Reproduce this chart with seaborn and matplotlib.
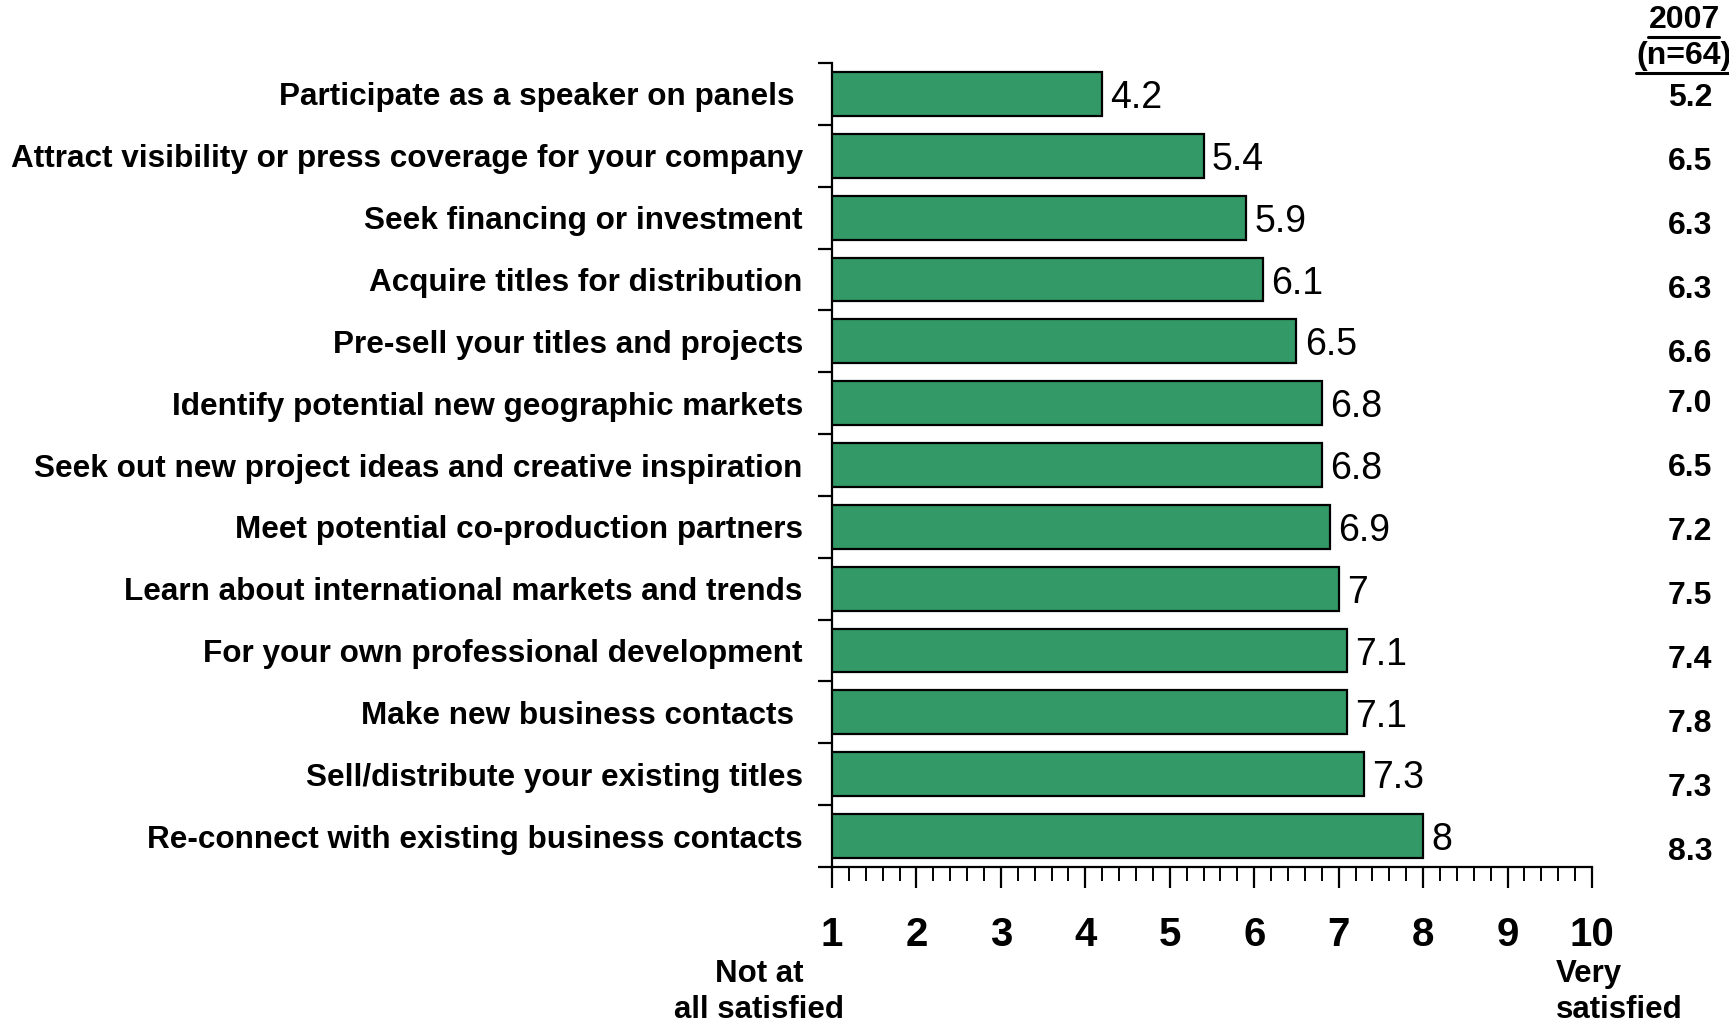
import matplotlib
matplotlib.use("Agg")
import matplotlib.pyplot as plt
import matplotlib.transforms as mtransforms
from matplotlib.ticker import MultipleLocator, FixedLocator
import seaborn as sns
import pandas as pd

# Satisfaction with festival activities, mean score on a 1-10 scale
activities = [
    "Participate as a speaker on panels ",
    "Attract visibility or press coverage for your company",
    "Seek financing or investment",
    "Acquire titles for distribution",
    "Pre-sell your titles and projects",
    "Identify potential new geographic markets",
    "Seek out new project ideas and creative inspiration",
    "Meet potential co-production partners",
    "Learn about international markets and trends",
    "For your own professional development",
    "Make new business contacts ",
    "Sell/distribute your existing titles",
    "Re-connect with existing business contacts",
]
scores_current = [4.2, 5.4, 5.9, 6.1, 6.5, 6.8, 6.8, 6.9, 7.0, 7.1, 7.1, 7.3, 8.0]
scores_2007 = [5.2, 6.5, 6.3, 6.3, 6.6, 7.0, 6.5, 7.2, 7.5, 7.4, 7.8, 7.3, 8.3]
scale_ticks = [1, 2, 3, 4, 5, 6, 7, 8, 9, 10]

df = pd.DataFrame({"activity": activities, "score": scores_current})

sns.set_style("white")
FONT = ["Liberation Sans", "DejaVu Sans"]
plt.rcParams["font.family"] = FONT
plt.rcParams.update({
    "text.color": "black",
    "axes.labelcolor": "black",
    "xtick.color": "black",
    "ytick.color": "black",
})

W, H = 1729, 1031
fig = plt.figure(figsize=(W / 100, H / 100), dpi=100)

# axes box in pixels (x = 1 at left spine, x = 10 at right end)
ax_left, ax_right, ax_top, ax_bottom = 832, 1592, 63, 867
ax = fig.add_axes([ax_left / W, 1 - ax_bottom / H,
                   (ax_right - ax_left) / W, (ax_bottom - ax_top) / H])

bar_color = "#339966"
sns.barplot(data=df, x="score", y="activity", orient="h", color=bar_color,
            edgecolor="black", linewidth=1.6, width=0.71, saturation=1,
            ax=ax)

ax.set_xlim(1, 10)
ax.set_ylim(len(activities) - 0.5, -0.5)

# value labels at bar ends
for cont in ax.containers:
    anns = ax.bar_label(cont, labels=[f"{v:g}" for v in scores_current],
                        padding=6, fontsize=27, color="black")
    for a in anns:
        a.xyann = (6, -3)

# spines
for side in ("top", "right"):
    ax.spines[side].set_visible(False)
for side in ("left", "bottom"):
    ax.spines[side].set_color("black")
    ax.spines[side].set_linewidth(1.6)

# x axis: major every 1, minor every 0.2, ticks pointing down
ax.xaxis.set_major_locator(FixedLocator(scale_ticks))
ax.xaxis.set_minor_locator(MultipleLocator(0.2))
ax.tick_params(axis="x", which="major", bottom=True, direction="out",
               length=15, width=1.6, pad=20, labelsize=29)
ax.tick_params(axis="x", which="minor", bottom=True, direction="out",
               length=10, width=1.4)
for lbl in ax.get_xticklabels():
    lbl.set_fontweight("bold")

# y axis: labels at category centers, separator ticks between categories
ax.set_yticks(range(len(activities)))
ax.set_yticks([i - 0.5 for i in range(len(activities) + 1)], minor=True)
ax.tick_params(axis="y", which="major", left=False, length=0, pad=21,
               labelsize=22.7)
ax.tick_params(axis="y", which="minor", left=True, direction="out",
               length=10, width=1.6)
for lbl in ax.get_yticklabels():
    lbl.set_fontweight("bold")
ax.set_xlabel("")
ax.set_ylabel("")

# 2007 comparison column, set in two blocks of evenly spaced rows
col_x = 1690 / W
row_px = 61.85          # height of one category in pixels
col_step = 64.0         # spacing of the comparison rows in pixels
block_starts = {0: 98.0, 5: 404.0}


def col_y(i):
    start = 5 if i >= 5 else 0
    y_px = block_starts[start] + col_step * (i - start)
    return (y_px - ax_top) / row_px - 0.5


trans = mtransforms.blended_transform_factory(fig.transFigure, ax.transData)
for i, v in enumerate(scores_2007):
    ax.text(col_x, col_y(i), f"{v:.1f}", transform=trans,
            ha="center", va="center", fontsize=23, fontweight="bold",
            clip_on=False)

hdr_x = 1684 / W
fig.text(hdr_x, 1 - 20 / H, "2007", ha="center", va="center", fontsize=23,
         fontweight="bold")
fig.text(hdr_x, 1 - 56 / H, "(n=64)", ha="center", va="center", fontsize=23,
         fontweight="bold")
fig.add_artist(plt.Line2D([1648 / W, 1719 / W], [1 - 37 / H] * 2,
                          color="black", linewidth=2.2))
fig.add_artist(plt.Line2D([1636 / W, 1729 / W], [1 - 73 / H] * 2,
                          color="black", linewidth=2.2))

# scale anchors under the axis
fig.text(759 / W, 1 - 992 / H, "Not at\nall satisfied", ha="center",
         va="center", fontsize=22.5, fontweight="bold", linespacing=1.22)
fig.text(1556 / W, 1 - 992 / H, "Very\nsatisfied", ha="left",
         va="center", fontsize=22.5, fontweight="bold", linespacing=1.22,
         multialignment="left")

fig.savefig("out.png", dpi=100, facecolor="white")
